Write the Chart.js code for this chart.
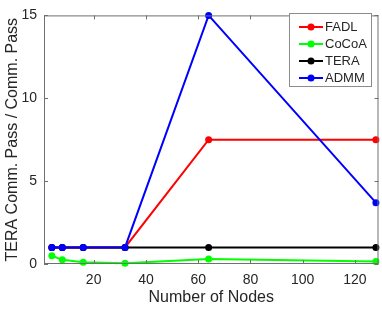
<!DOCTYPE html>
<html lang="en">
<head>
    <meta charset="UTF-8">
    <title>TERA Comm. Pass ratio</title>
    <script src="https://cdn.jsdelivr.net/npm/chart.js"></script>
    <style>
        html, body { margin: 0; padding: 0; background: #fff; }
        #wrap { width: 382px; height: 309px; }
    </style>
</head>
<body>
    <div id="wrap"><canvas id="nodesChart" width="382" height="309"></canvas></div>

    <script>
        // number of nodes on the x axis
        const nodes = [4, 8, 16, 32, 64, 128];

        // series values
        const fadl  = [1, 1, 1, 1, 7.5, 7.5];
        const cocoa = [0.5, 0.25, 0.1, 0.05, 0.3, 0.15];
        const tera  = [1, 1, 1, 1, 1, 1];
        const admm  = [1, 1, 1, 1, 15, 3.7];

        const seriesNames = ['FADL', 'CoCoA', 'TERA', 'ADMM'];
        const xTicks = [20, 40, 60, 80, 100, 120];
        const yTicks = [0, 5, 10, 15];

        const colors = ['#ff0000', '#00ff00', '#000000', '#0000ff'];
        const axisColor = '#262626';
        const fontFam = '"Liberation Sans", Arial, Helvetica, sans-serif';

        function toPoints(vals) {
            return nodes.map((n, i) => ({ x: n, y: vals[i] }));
        }

        const allSeries = [fadl, cocoa, tera, admm];
        const datasets = allSeries.map((vals, i) => ({
            label: seriesNames[i],
            data: toPoints(vals),
            borderColor: colors[i],
            backgroundColor: colors[i],
            borderWidth: 2,
            pointRadius: 3.5,
            pointHoverRadius: 3.5,
            pointBorderWidth: 0,
            tension: 0,
            fill: false,
            clip: false,
            order: allSeries.length - i   // later series drawn on top, like matlab
        }));

        // box, inward ticks and the legend inside the axes
        const matlabAxes = {
            id: 'matlabAxes',
            afterDraw(chart) {
                const c = chart.ctx;
                const a = chart.chartArea;
                const xs = chart.scales.x, ys = chart.scales.y;
                c.save();
                c.strokeStyle = '#707070';
                c.lineWidth = 1;
                c.strokeRect(a.left + 0.5, a.top + 0.5, a.right - a.left - 1, a.bottom - a.top - 1);
                const tl = 4;
                c.beginPath();
                xTicks.forEach(v => {
                    const px = Math.round(xs.getPixelForValue(v)) + 0.5;
                    c.moveTo(px, a.bottom); c.lineTo(px, a.bottom - tl);
                    c.moveTo(px, a.top); c.lineTo(px, a.top + tl);
                });
                yTicks.forEach(v => {
                    const py = Math.round(ys.getPixelForValue(v)) + 0.5;
                    c.moveTo(a.left, py); c.lineTo(a.left + tl, py);
                    c.moveTo(a.right, py); c.lineTo(a.right - tl, py);
                });
                c.stroke();

                // legend
                const bx = 289.5, by = 13.5, bw = 82, bh = 73;
                c.fillStyle = '#ffffff';
                c.fillRect(bx, by, bw, bh);
                c.strokeStyle = '#8c8c8c';
                c.strokeRect(bx, by, bw, bh);
                c.font = '13px ' + fontFam;
                c.textBaseline = 'middle';
                c.textAlign = 'left';
                seriesNames.forEach((name, i) => {
                    const y = 27 + i * 17;
                    c.strokeStyle = colors[i];
                    c.lineWidth = 2;
                    c.beginPath();
                    c.moveTo(299, y); c.lineTo(323, y);
                    c.stroke();
                    c.fillStyle = colors[i];
                    c.beginPath();
                    c.arc(311, y, 3.5, 0, Math.PI * 2);
                    c.fill();
                    c.fillStyle = axisColor;
                    c.fillText(name, 325, y + 0.5);
                });
                c.restore();
            }
        };

        const ctx = document.getElementById('nodesChart').getContext('2d');
        new Chart(ctx, {
            type: 'line',
            data: { datasets: datasets },
            plugins: [matlabAxes],
            options: {
                responsive: false,
                animation: false,
                events: [],
                layout: { padding: { top: 9, right: 1, left: 0, bottom: 0 } },
                plugins: {
                    legend: { display: false },
                    tooltip: { enabled: false }
                },
                scales: {
                    x: {
                        type: 'linear',
                        min: 1,
                        max: 129,
                        afterBuildTicks: s => { s.ticks = xTicks.map(v => ({ value: v })); },
                        afterFit: s => { s.height = 45; },
                        grid: { display: false, drawTicks: false },
                        border: { display: false },
                        ticks: {
                            color: axisColor,
                            padding: 8,
                            maxRotation: 0,
                            font: { family: fontFam, size: 14 }
                        },
                        title: {
                            display: true,
                            text: 'Number of Nodes',
                            color: axisColor,
                            padding: { top: 0, bottom: 2 },
                            font: { family: fontFam, size: 16 }
                        }
                    },
                    y: {
                        min: 0,
                        max: 15,
                        afterBuildTicks: s => { s.ticks = yTicks.map(v => ({ value: v })); },
                        afterFit: s => { s.width = 44; },
                        grid: { display: false, drawTicks: false },
                        border: { display: false },
                        ticks: {
                            color: axisColor,
                            padding: 7,
                            font: { family: fontFam, size: 14 }
                        },
                        title: {
                            display: true,
                            text: 'TERA Comm. Pass / Comm. Pass',
                            color: axisColor,
                            padding: { top: 3, bottom: 0 },
                            font: { family: fontFam, size: 16 }
                        }
                    }
                }
            }
        });
    </script>
</body>
</html>
